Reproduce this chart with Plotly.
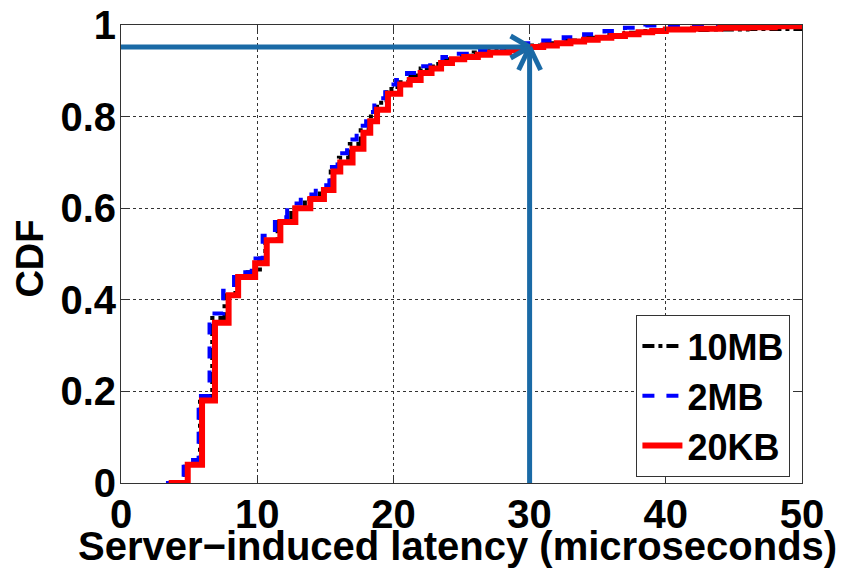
import plotly.graph_objects as go

# ---- data ----
x_10mb = [3.4, 4.7, 5.8, 6.7, 7.6, 8.4, 9.3, 10.2, 10.6, 11.5, 12.5, 13.5, 14.6, 15.4, 16.0,
          16.8, 17.6, 18.2, 18.8, 19.5, 20.3, 21.1, 22.0, 22.9, 23.8, 24.8, 25.9, 27.0, 28.3,
          29.7, 31.0, 32.5, 34.0, 35.5, 37.0, 38.5, 40.0, 43.0, 46.0, 50.0]
y_10mb = [0.0, 0.04, 0.19, 0.36, 0.41, 0.45, 0.46, 0.49, 0.53, 0.57, 0.60, 0.62, 0.64, 0.68, 0.71,
          0.74, 0.77, 0.80, 0.83, 0.86, 0.875, 0.89, 0.905, 0.915, 0.925, 0.933, 0.94, 0.945, 0.95,
          0.955, 0.96, 0.966, 0.972, 0.978, 0.983, 0.987, 0.989, 0.99, 0.991, 0.992]

x_2mb = [3.3, 4.6, 5.7, 6.5, 7.5, 8.3, 9.6, 10.4, 11.3, 12.2, 13.2, 14.3, 15.3, 15.9, 16.6,
         17.3, 18.0, 18.6, 19.4, 20.2, 21.0, 21.8, 22.7, 23.6, 24.6, 25.6, 26.8, 28.0, 29.5,
         31.0, 32.5, 34.0, 35.5, 37.0, 38.5, 40.0, 50.0]
y_2mb = [0.0, 0.05, 0.19, 0.37, 0.42, 0.46, 0.49, 0.54, 0.58, 0.61, 0.63, 0.65, 0.69, 0.72, 0.75,
         0.78, 0.81, 0.84, 0.87, 0.88, 0.895, 0.91, 0.92, 0.93, 0.937, 0.943, 0.948, 0.952, 0.96,
         0.966, 0.973, 0.98, 0.987, 0.994, 0.999, 1.0, 1.0]

x_20kb = [3.5, 4.9, 5.95, 6.9, 7.9, 8.6, 9.85, 10.7, 11.7, 12.8, 13.9, 14.9, 15.6, 16.1, 17.0,
          17.8, 18.3, 18.8, 19.6, 20.5, 21.2, 22.0, 22.8, 23.5, 24.3, 25.2, 26.2, 27.1, 28.5,
          29.9, 31.0, 32.0, 33.0, 34.0, 35.0, 36.0, 37.0, 38.0, 39.0, 40.0, 42.0, 44.0, 46.0,
          48.0, 50.0]
y_20kb = [0.0, 0.04, 0.18, 0.35, 0.41, 0.45, 0.48, 0.53, 0.57, 0.60, 0.62, 0.64, 0.68, 0.70, 0.73,
          0.765, 0.79, 0.815, 0.85, 0.87, 0.88, 0.895, 0.905, 0.917, 0.925, 0.93, 0.935, 0.94, 0.945,
          0.952, 0.955, 0.96, 0.964, 0.968, 0.972, 0.976, 0.98, 0.984, 0.987, 0.99, 0.992, 0.994, 0.995,
          0.997, 0.998]

x_ticks = [0, 10, 20, 30, 40, 50]
y_ticks = [0, 0.2, 0.4, 0.6, 0.8, 1]
y_tick_text = ["0", "0.2", "0.4", "0.6", "0.8", "1"]

x_title = "Server\u2212induced latency (microseconds)"
y_title = "CDF"

marker_x = 30      # highlighted latency
marker_y = 0.952   # CDF at that latency

FONT = "Liberation Sans, Arial, sans-serif"
ARROW = "#1a6aa6"

fig = go.Figure()
fig.add_trace(go.Scatter(x=x_10mb, y=y_10mb, mode="lines", name="10MB", line_shape="hv",
                         line=dict(color="black", width=4, dash="dashdot")))
fig.add_trace(go.Scatter(x=x_2mb, y=y_2mb, mode="lines", name="2MB", line_shape="hv",
                         line=dict(color="#0000ff", width=4, dash="dash")))
fig.add_trace(go.Scatter(x=x_20kb, y=y_20kb, mode="lines", name="20KB", line_shape="hv",
                         line=dict(color="#ff0000", width=6)))

# arrows
fig.add_shape(type="line", x0=0, x1=marker_x, y0=marker_y, y1=marker_y,
              line=dict(color=ARROW, width=5), layer="above")
fig.add_shape(type="line", x0=marker_x, x1=marker_x, y0=0, y1=marker_y,
              line=dict(color=ARROW, width=5), layer="above")
# chevron heads (pixel offsets from the tip)
for dx, dy in [(-19, 11), (-19, -11)]:
    fig.add_shape(type="line", xsizemode="pixel", ysizemode="pixel",
                  xanchor=marker_x, yanchor=marker_y, x0=dx, y0=dy, x1=0, y1=0,
                  line=dict(color=ARROW, width=5), layer="above")
for dx, dy in [(-11, -23), (11, -23)]:
    fig.add_shape(type="line", xsizemode="pixel", ysizemode="pixel",
                  xanchor=marker_x, yanchor=marker_y, x0=dx, y0=dy, x1=0, y1=0,
                  line=dict(color=ARROW, width=5), layer="above")

axis_common = dict(
    showline=True, linecolor="#333", linewidth=1, mirror="ticks",
    ticks="inside", ticklen=6, tickcolor="#333",
    showgrid=True, gridcolor="#333", gridwidth=1, griddash="dot",
    zeroline=False, automargin=False, ticklabeloverflow="allow",
    ticklabelstandoff=-4,
    tickfont=dict(family=FONT, size=40, color="black", weight="bold"),
)

fig.update_xaxes(range=[0, 50], tickvals=x_ticks, **axis_common)
fig.update_yaxes(range=[0, 1], tickvals=y_ticks, ticktext=y_tick_text, **axis_common)

# axis titles as annotations for precise placement
fig.add_annotation(text=x_title, xref="paper", yref="paper", x=0.494, y=0,
                   xanchor="center", yanchor="top", yshift=-39, showarrow=False,
                   font=dict(family=FONT, size=40, color="black", weight="bold"))
fig.add_annotation(text=y_title, xref="paper", yref="paper", x=0, y=0.49,
                   xanchor="center", yanchor="middle", xshift=-91, textangle=-90,
                   showarrow=False,
                   font=dict(family=FONT, size=38, color="black", weight="bold"))

fig.update_layout(
    width=845, height=563,
    margin=dict(l=113, r=51, t=17, b=88),
    plot_bgcolor="white", paper_bgcolor="white",
    legend=dict(x=0.983, y=0.013, xanchor="right", yanchor="bottom",
                bordercolor="#333", borderwidth=1, bgcolor="white",
                font=dict(family=FONT, size=36, color="black", weight="bold"),
                tracegroupgap=0, itemwidth=40),
    showlegend=True,
)

fig.write_html("out.html")
